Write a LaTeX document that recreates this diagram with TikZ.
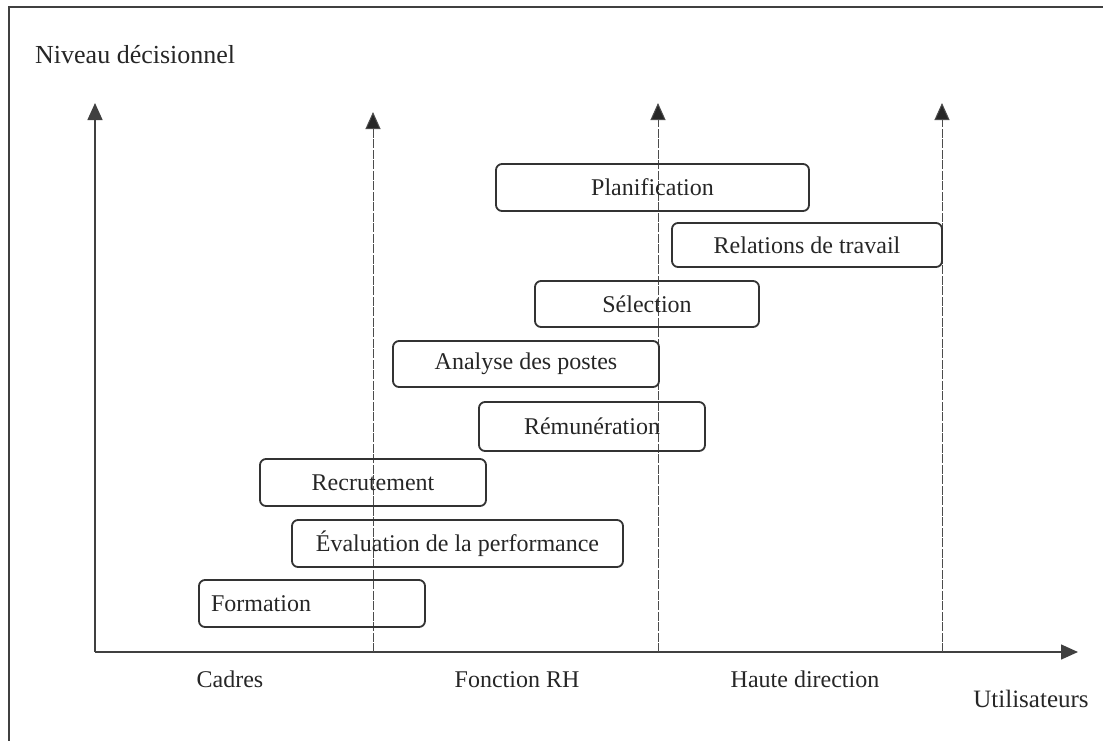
\documentclass[tikz,border=0pt]{standalone}
\usepackage{fontspec}
\setmainfont{Liberation Serif}
\usetikzlibrary{arrows.meta}
\begin{document}
\begin{tikzpicture}[x=1pt,y=-1pt,
  every node/.style={font=\fontsize{24}{28}\selectfont, text=black!85},
  activity/.style={draw=black!80, line width=1.8pt, rounded corners=6pt,
    minimum height=47pt, inner sep=0pt},
  axis/.style={draw=black!75, line width=1.5pt,
    -{Triangle[length=17pt,width=15pt]}},
  divider/.style={draw=black!70, line width=1pt, dash pattern=on 9pt off 1.5pt,
    -{Triangle[length=17pt,width=15pt,fill=black!85]}},
  lbl/.style={anchor=base, inner sep=0pt}]
\useasboundingbox (0,0) rectangle (1103,740);
% outer frame
\draw[black!75, line width=1.8pt] (9,760) -- (9,7) -- (1120,7);

% axes
\coordinate (O) at (95,652);
\coordinate (ytip) at (95,103);
\coordinate (xtip) at (1078,652);
\draw[axis] (O) -- (ytip);
\draw[axis] (O) -- (xtip);

% user group dividers
\coordinate (d1b) at (373,652); \coordinate (d1t) at (373,112);
\coordinate (d2b) at (658,652); \coordinate (d2t) at (658,103);
\coordinate (d3b) at (942,652); \coordinate (d3t) at (942,103);
\draw[divider] (d1b) -- (d1t);
\draw[divider] (d2b) -- (d2t);
\draw[divider] (d3b) -- (d3t);

% activities
\node[activity, minimum width=313pt] (plan) at (652.5,187.5) {Planification};
\node[activity, minimum width=270pt, minimum height=44pt] (rel) at (807,245) {Relations de travail};
\node[activity, minimum width=224pt, minimum height=46pt] (sel) at (647,304) {Sélection};
\node[activity, minimum width=266pt, minimum height=46pt] (ana) at (526,364) {Analyse des postes};
\node[activity, minimum width=226pt, minimum height=49pt] (rem) at (592,426.5) {Rémunération};
\node[activity, minimum width=226pt] (rec) at (373,482.5) {Recrutement};
\node[activity, minimum width=331pt] (eva) at (457.5,543.5) {Évaluation de la performance};
\node[activity, minimum width=226pt, text width=202pt, align=left] (form) at (312,603.5) {Formation};

% axis labels
\node[anchor=base west, inner sep=0pt, font=\fontsize{26}{30}\selectfont] (niv) at (35,63) {Niveau décisionnel};
\node[lbl] (cadres) at (230,687) {Cadres};
\node[lbl] (rh) at (517,687) {Fonction RH};
\node[lbl] (haute) at (805,687) {Haute direction};
\node[lbl, font=\fontsize{25}{29}\selectfont] (util) at (1031,707) {Utilisateurs};
\end{tikzpicture}
\end{document}
